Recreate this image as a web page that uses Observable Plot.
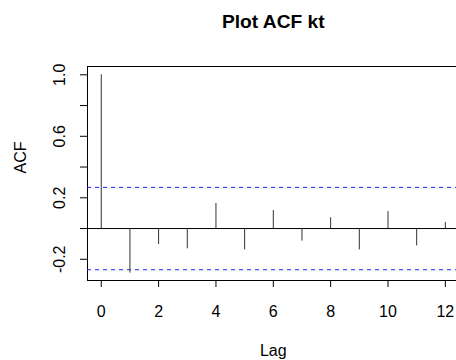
<!DOCTYPE html>
<html>
<head>
<meta charset="utf-8">
<script src="https://cdn.jsdelivr.net/npm/d3@7"></script>
<script src="https://cdn.jsdelivr.net/npm/@observablehq/plot@0.6"></script>
<style>
  html, body { margin: 0; padding: 0; background: #fff; overflow: hidden; }
  svg { font-family: "Liberation Sans", Arial, sans-serif; }
</style>
</head>
<body>
<div id="chart"></div>
<script>
const lags = [0, 1, 2, 3, 4, 5, 6, 7, 8, 9, 10, 11, 12];
const acf = [1.0, -0.29, -0.104, -0.132, 0.163, -0.139, 0.117, -0.082, 0.07, -0.139, 0.11, -0.113, 0.039];
const ciBound = 0.268;
const xTicks = [0, 2, 4, 6, 8, 10, 12];
const yTicks = [-0.2, 0, 0.2, 0.4, 0.6, 0.8, 1.0];
const yLabels = [-0.2, 0.2, 0.6, 1.0];
const yLabelText = ["-0.2", "0.2", "0.6", "1.0"];
const title = "Plot ACF kt";
const xLabel = "Lag";
const yLabel = "ACF";

const xDom = [-0.48, 12.48];
const yDom = [-0.338, 1.054];
const data = lags.map((l, i) => ({lag: l, acf: acf[i]}));

const chart = Plot.plot({
  width: 456,
  height: 360,
  marginLeft: 87,
  marginTop: 66,
  marginBottom: 80,
  marginRight: 0,
  style: {fontFamily: "'Liberation Sans', Arial, sans-serif", fontSize: "16px", background: "#fff", overflow: "hidden"},
  x: {domain: xDom, range: [87, 458.6], label: null},
  y: {domain: yDom, label: null},
  marks: [
    // box
    Plot.ruleY([yDom[1], yDom[0]], {y: d => d, x1: xDom[0], x2: xDom[1], stroke: "#000", strokeWidth: 1}),
    Plot.ruleX([xDom[0], xDom[1]], {x: d => d, y1: yDom[0], y2: yDom[1], stroke: "#000", strokeWidth: 1}),
    // zero line
    Plot.ruleY([0], {x1: xDom[0], x2: xDom[1], stroke: "#000", strokeWidth: 1}),
    // confidence bounds
    Plot.ruleY([ciBound, -ciBound], {y: d => d, x1: xDom[0], x2: xDom[1], stroke: "#2020ff", strokeWidth: 1, strokeDasharray: "4,4"}),
    // spikes
    Plot.ruleX(data, {x: "lag", y1: 0, y2: "acf", stroke: "#333", strokeWidth: 1}),
    // axes
    Plot.axisX({ticks: xTicks, tickSize: 7, tickFormat: () => "", anchor: "bottom", label: null}),
    Plot.text(xTicks, {x: d => d, frameAnchor: "bottom", dy: 31, text: d => String(d), lineAnchor: "middle", fontSize: 16, fill: "#000"}),
    Plot.axisY({ticks: yTicks, tickSize: 7, tickFormat: () => "", anchor: "left", label: null}),
    Plot.text(yLabels, {y: d => d, frameAnchor: "left", dx: -28, text: (d, i) => yLabelText[i], rotate: -90, textAnchor: "middle", lineAnchor: "middle", fontSize: 16, fill: "#000"}),
    // titles
    Plot.text([title], {x: 6, frameAnchor: "top", dy: -45, text: d => d, fontWeight: "bold", fontSize: 19.2, lineAnchor: "middle", fill: "#000"}),
    Plot.text([xLabel], {x: 6, frameAnchor: "bottom", dy: 70, text: d => d, fontSize: 16, lineAnchor: "middle", fill: "#000"}),
    Plot.text([yLabel], {frameAnchor: "left", dx: -67, text: d => d, rotate: -90, fontSize: 16, lineAnchor: "middle", fill: "#000"})
  ]
});
document.getElementById("chart").appendChild(chart);
</script>
</body>
</html>
